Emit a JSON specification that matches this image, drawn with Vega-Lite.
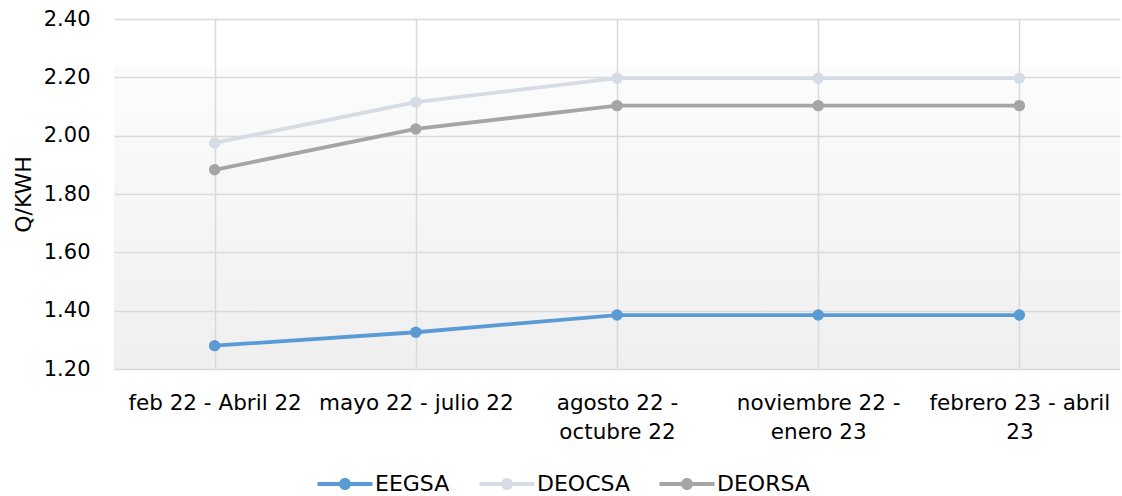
{
  "$schema": "https://vega.github.io/schema/vega-lite/v6.json",
  "width": 1006,
  "height": 350,
  "autosize": "none",
  "padding": {"left": 114, "top": 19, "right": 2, "bottom": 127},
  "background": "#ffffff",
  "config": {
    "font": "DejaVu Sans",
    "view": {
      "stroke": null,
      "fill": {
        "gradient": "linear",
        "x1": 0, "y1": 0, "x2": 0, "y2": 1,
        "stops": [
          {"offset": 0, "color": "#ffffff"},
          {"offset": 0.134, "color": "#ffffff"},
          {"offset": 0.135, "color": "#fcfcfc"},
          {"offset": 1, "color": "#efefef"}
        ]
      }
    }
  },
  "data": {
    "values": [
      {"periodo": "feb 22 - Abril 22", "serie": "EEGSA", "valor": 1.28},
      {"periodo": "mayo 22 - julio 22", "serie": "EEGSA", "valor": 1.326},
      {"periodo": "agosto 22 - octubre 22", "serie": "EEGSA", "valor": 1.385},
      {"periodo": "noviembre 22 - enero 23", "serie": "EEGSA", "valor": 1.385},
      {"periodo": "febrero 23 - abril 23", "serie": "EEGSA", "valor": 1.385},
      {"periodo": "feb 22 - Abril 22", "serie": "DEOCSA", "valor": 1.975},
      {"periodo": "mayo 22 - julio 22", "serie": "DEOCSA", "valor": 2.115},
      {"periodo": "agosto 22 - octubre 22", "serie": "DEOCSA", "valor": 2.197},
      {"periodo": "noviembre 22 - enero 23", "serie": "DEOCSA", "valor": 2.197},
      {"periodo": "febrero 23 - abril 23", "serie": "DEOCSA", "valor": 2.197},
      {"periodo": "feb 22 - Abril 22", "serie": "DEORSA", "valor": 1.883},
      {"periodo": "mayo 22 - julio 22", "serie": "DEORSA", "valor": 2.023},
      {"periodo": "agosto 22 - octubre 22", "serie": "DEORSA", "valor": 2.103},
      {"periodo": "noviembre 22 - enero 23", "serie": "DEORSA", "valor": 2.103},
      {"periodo": "febrero 23 - abril 23", "serie": "DEORSA", "valor": 2.103}
    ]
  },
  "encoding": {
    "x": {
      "field": "periodo",
      "type": "ordinal",
      "sort": null,
      "scale": {"type": "point", "padding": 0.5},
      "axis": {
        "title": null,
        "labelAngle": 0,
        "labelFontSize": 21.5,
        "labelColor": "#000000",
        "labelPadding": 23,
        "labelLineHeight": 29,
        "labelLimit": 400,
        "labelOverlap": false,
        "labelExpr": "datum.value == 'agosto 22 - octubre 22' ? ['agosto 22 -', 'octubre 22'] : datum.value == 'noviembre 22 - enero 23' ? ['noviembre 22 -', 'enero 23'] : datum.value == 'febrero 23 - abril 23' ? ['febrero 23 - abril', '23'] : datum.value",
        "ticks": false,
        "domain": false,
        "grid": true,
        "gridColor": "#d9d9d9",
        "gridWidth": 1.5,
        "labelBaseline": "top"
      }
    },
    "y": {
      "field": "valor",
      "type": "quantitative",
      "scale": {"domain": [1.2, 2.4], "nice": false, "zero": false},
      "axis": {
        "title": "Q/KWH",
        "titleFontSize": 22,
        "titleFontWeight": "normal",
        "titleColor": "#000000",
        "titlePadding": 8,
        "values": [1.2, 1.4, 1.6, 1.8, 2.0, 2.2, 2.4],
        "format": ".2f",
        "labelFontSize": 21,
        "labelColor": "#000000",
        "labelPadding": 24,
        "ticks": false,
        "domain": false,
        "gridColor": "#d9d9d9",
        "gridWidth": 1.5
      }
    }
  },
  "layer": [
    {
      "mark": {"type": "line", "strokeWidth": 3.8},
      "encoding": {
        "stroke": {
          "field": "serie",
          "type": "nominal",
          "sort": ["EEGSA", "DEOCSA", "DEORSA"],
          "scale": {"domain": ["EEGSA", "DEOCSA", "DEORSA"], "range": ["#5b9bd5", "#d6dce4", "#a5a5a5"]}
        }
      }
    },
    {
      "mark": {"type": "point", "filled": true, "size": 130, "opacity": 1, "strokeWidth": 0},
      "encoding": {
        "fill": {
          "field": "serie",
          "type": "nominal",
          "sort": ["EEGSA", "DEOCSA", "DEORSA"],
          "scale": {"domain": ["EEGSA", "DEOCSA", "DEORSA"], "range": ["#5b9bd5", "#d6dce4", "#a5a5a5"]},
          "legend": {
            "title": null,
            "orient": "none",
            "legendX": 220,
            "legendY": 454,
            "padding": 0,
            "direction": "horizontal",
            "labelFontSize": 22,
            "labelColor": "#000000",
            "symbolType": "M-2.75,-0.19L2.75,-0.19L2.75,0.19L-2.75,0.19Z M-0.6,0A0.6,0.6 0 1,1 0.6,0A0.6,0.6 0 1,1 -0.6,0Z",
            "symbolSize": 400,
            "symbolStrokeWidth": 0,
            "symbolOpacity": 1,
            "labelOffset": 19,
            "columnPadding": 29
          }
        }
      }
    }
  ]
}
